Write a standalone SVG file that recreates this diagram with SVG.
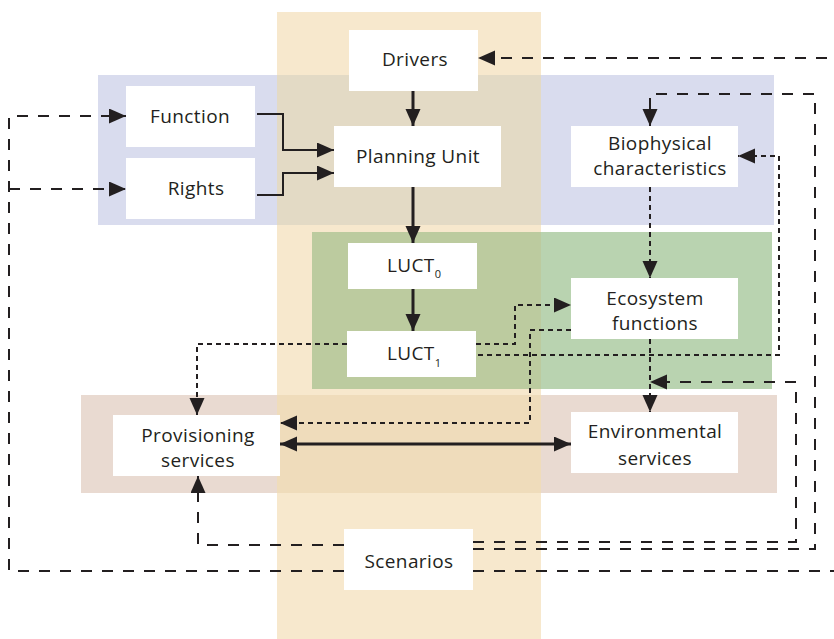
<svg xmlns="http://www.w3.org/2000/svg" width="834" height="639" viewBox="0 0 834 639">
<defs>
<style>
.box{fill:#ffffff}
.t{font-family:"Open Sans","Liberation Sans",sans-serif;font-size:19px;fill:#231f20;text-anchor:middle;letter-spacing:0.4px}
.sub{font-size:11px;letter-spacing:0}
.solid{fill:none;stroke:#231f20;stroke-width:3}
.solid2{fill:none;stroke:#231f20;stroke-width:2}
.dash{fill:none;stroke:#231f20;stroke-width:2;stroke-dasharray:11 10}
.dot{fill:none;stroke:#231f20;stroke-width:2;stroke-dasharray:5 4}
</style>
<marker id="ah" markerUnits="userSpaceOnUse" markerWidth="18" markerHeight="16" refX="17" refY="7.5" orient="auto-start-reverse" viewBox="0 0 18 16">
<path d="M0,0 L17,7.5 L0,15 z" fill="#231f20"/>
</marker>
</defs>
<g id="panels">
<rect x="277" y="12" width="264" height="627" fill="#f7e8cd"/>
<rect x="98" y="75" width="676" height="150" fill="#d9dcee"/>
<rect x="312" y="232" width="460" height="157" fill="#b9d3b0"/>
<rect x="81" y="395" width="696" height="98" fill="#e9dad1"/>
<rect x="277" y="75" width="264" height="150" fill="#e3dac5"/>
<rect x="312" y="232" width="229" height="157" fill="#bccb9f"/>
<rect x="277" y="395" width="264" height="98" fill="#efdcbb"/>
</g>
<g id="connectors">
<path class="solid" d="M413,91 V126" marker-end="url(#ah)"/>
<path class="solid2" d="M257,114 H283 V150 H334" marker-end="url(#ah)"/>
<path class="solid2" d="M257,195 H283 V173 H334" marker-end="url(#ah)"/>
<path class="solid" d="M413,187 V243" marker-end="url(#ah)"/>
<path class="solid" d="M413,289 V331" marker-end="url(#ah)"/>
<path class="solid" d="M280,444 H571" marker-start="url(#ah)" marker-end="url(#ah)"/>
<path class="dash" d="M473,571 H845 V58 H478" marker-end="url(#ah)"/>
<path class="dash" d="M344,571 H9 V116 H126" marker-end="url(#ah)"/>
<path class="dash" d="M9,189 H126" marker-end="url(#ah)"/>
<path class="dash" d="M344,545 H198 V476" marker-end="url(#ah)"/>
<path class="dash" d="M473,542 H796 V382 H650" marker-end="url(#ah)"/>
<path class="dash" d="M473,549 H815 V94 H650 V126" marker-end="url(#ah)"/>
<path class="dot" d="M650,187 V278" marker-end="url(#ah)"/>
<path class="dot" d="M650,339 V412" marker-end="url(#ah)"/>
<path class="dot" d="M476,344 H515 V305 H571" marker-end="url(#ah)"/>
<path class="dot" d="M571,330 H530 V423 H280" marker-end="url(#ah)"/>
<path class="dot" d="M478,355 H779 V156 H738" marker-end="url(#ah)"/>
<path class="dot" d="M347,344 H197 V415" marker-end="url(#ah)"/>
</g>
<g id="drivers"><rect class="box" x="349" y="30" width="129" height="61"/><text class="t" x="415" y="66">Drivers</text></g>
<g id="function"><rect class="box" x="126" y="86" width="129" height="61"/><text class="t" x="190" y="123">Function</text></g>
<g id="rights"><rect class="box" x="126" y="158" width="129" height="61"/><text class="t" x="196" y="195">Rights</text></g>
<g id="planning-unit"><rect class="box" x="334" y="126" width="167" height="61"/><text class="t" x="418" y="163">Planning Unit</text></g>
<g id="biophysical"><rect class="box" x="571" y="126" width="167" height="61"/><text class="t" x="660" y="150">Biophysical</text><text class="t" x="660" y="175">characteristics</text></g>
<g id="luct0"><rect class="box" x="348" y="243" width="129" height="46"/><text class="t" x="414" y="272">LUCT<tspan class="sub" dy="6">0</tspan></text></g>
<g id="luct1"><rect class="box" x="347" y="331" width="129" height="46"/><text class="t" x="414" y="360">LUCT<tspan class="sub" dy="7">1</tspan></text></g>
<g id="ecosystem"><rect class="box" x="571" y="278" width="167" height="61"/><text class="t" x="655" y="305">Ecosystem</text><text class="t" x="655" y="330">functions</text></g>
<g id="provisioning"><rect class="box" x="113" y="415" width="167" height="61"/><text class="t" x="198" y="442">Provisioning</text><text class="t" x="198" y="467">services</text></g>
<g id="environmental"><rect class="box" x="571" y="412" width="167" height="61"/><text class="t" x="655" y="438">Environmental</text><text class="t" x="655" y="465">services</text></g>
<g id="scenarios"><rect class="box" x="344" y="529" width="129" height="61"/><text class="t" x="409" y="568">Scenarios</text></g>
</svg>
